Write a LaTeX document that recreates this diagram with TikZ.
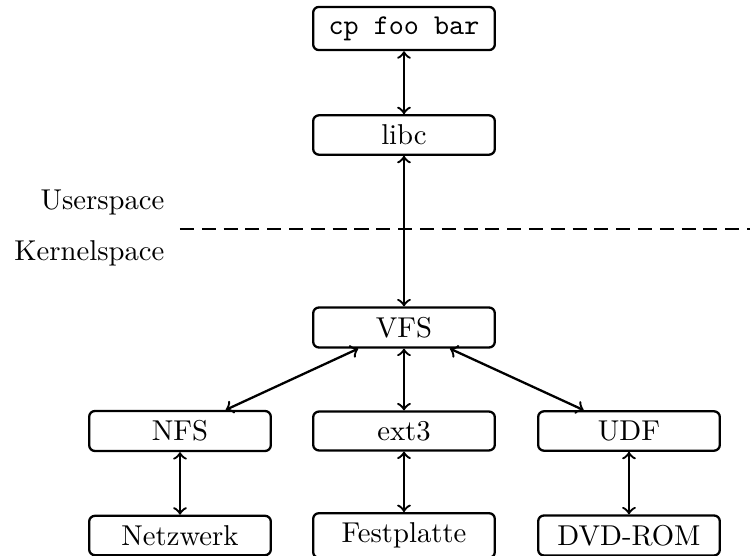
\documentclass[tikz,border=0pt]{standalone}
\begin{document}
\begin{tikzpicture}[x=0.3485pt,y=-0.3485pt,
  box/.style={draw,thick,rounded corners=2pt,minimum width=63.3pt,inner sep=3.33pt},
  link/.style={thick,<->},
  side/.style={anchor=east,inner sep=0pt}]
\useasboundingbox (0,0) rectangle (750,556);
\node[box] (cp) at (404,28.5) {\texttt{cp foo bar}};
\node[box] (libc) at (404,135) {libc};
\node[box] (vfs) at (404,327.5) {VFS};
\node[box] (nfs) at (180,431) {NFS};
\node[box] (ext) at (404,431) {ext3};
\node[box] (udf) at (629,431) {UDF};
\node[box] (net) at (180,535.5) {Netzwerk};
\node[box] (fest) at (404,535.5) {Festplatte};
\node[box] (dvd) at (629,535.5) {DVD-ROM};
\node[side] (us) at (165,202) {Userspace};
\node[side] (ks) at (165,253) {Kernelspace};
\coordinate (dl) at (180,229);
\coordinate (dr) at (752,229);
\draw[thick,dash pattern=on 4.9pt off 2.7pt] (dl) -- (dr);
\draw[link] (cp) -- (libc);
\draw[link] (libc) -- (vfs);
\draw[link] (vfs) -- (nfs);
\draw[link] (vfs) -- (ext);
\draw[link] (vfs) -- (udf);
\draw[link] (nfs) -- (net);
\draw[link] (ext) -- (fest);
\draw[link] (udf) -- (dvd);
\end{tikzpicture}
\end{document}
